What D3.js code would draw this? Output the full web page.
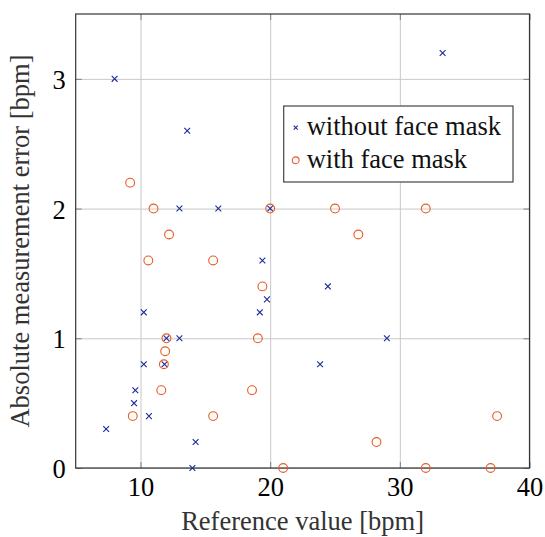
<!DOCTYPE html>
<html>
<head>
<meta charset="utf-8">
<script src="https://cdn.jsdelivr.net/npm/d3@7"></script>
<style>
    body { margin: 0; background: #fff; }
</style>
</head>
<body>
<div id="chart"></div>
<script>
// reference value [bpm] and absolute error [bpm]
var noMaskX = [8, 13.6, 13, 16, 20, 33.3, 19.4, 19.75, 10.25, 19.2, 12, 13, 10.25, 11.85, 9.6, 9.5, 10.65, 7.35, 14.25, 14, 24.45, 29, 23.85];
var noMaskY = [3, 2.6, 2, 2, 2, 3.2, 1.6, 1.3, 1.2, 1.2, 1, 1, 0.8, 0.8, 0.6, 0.5, 0.4, 0.3, 0.2, 0, 1.4, 1, 0.8];
var maskX = [9.2, 11, 12.2, 20, 25, 32, 26.8, 10.6, 15.6, 19.4, 12, 19.05, 11.9, 11.8, 11.6, 18.6, 9.4, 15.6, 21, 37.5, 28.2, 32, 37];
var maskY = [2.2, 2, 1.8, 2, 2, 2, 1.8, 1.6, 1.6, 1.4, 1, 1, 0.9, 0.8, 0.6, 0.6, 0.4, 0.4, 0, 0.4, 0.2, 0, 0];
var xTicks = [10, 20, 30, 40];
var yTicks = [0, 1, 2, 3];
var seriesNames = ["without face mask", "with face mask"];

var width = 545, height = 537;
var margin = { top: 14, right: 15.5, bottom: 69, left: 75.7 };
var w = width - margin.left - margin.right;
var h = height - margin.top - margin.bottom;

var blue = "#1a2b9c", orange = "#e85a25";
var font = "Liberation Serif";
var fontSize = 26.5;

// touch the font once so it is loaded before the svg text is laid out
var ctx = document.createElement("canvas").getContext("2d");
ctx.font = fontSize + "px '" + font + "', serif";
ctx.measureText("Absolute measurement error 0123");

var svg = d3.select("#chart").append("svg")
    .attr("width", width)
    .attr("height", height);

var g = svg.append("g")
    .attr("transform", "translate(" + margin.left + "," + margin.top + ")");

var x = d3.scaleLinear().domain([5, 40]).range([0, w]);
var y = d3.scaleLinear().domain([0, 3.5]).range([h, 0]);

// grid
g.append("g")
    .attr("transform", "translate(0," + h + ")")
    .call(d3.axisBottom(x).tickValues(xTicks).tickSize(-h).tickFormat(""))
    .call(function (s) {
        s.select(".domain").remove();
        s.selectAll("line").attr("stroke", "#c8c8c8").attr("stroke-width", 1);
    });
g.append("g")
    .call(d3.axisLeft(y).tickValues(yTicks).tickSize(-w).tickFormat(""))
    .call(function (s) {
        s.select(".domain").remove();
        s.selectAll("line").attr("stroke", "#c8c8c8").attr("stroke-width", 1);
    });

// inner tick marks on all four sides
function tickMarks(axis, tr) {
    g.append("g").attr("transform", tr)
        .call(axis.tickSizeInner(-6).tickSizeOuter(0).tickFormat(""))
        .call(function (s) {
            s.select(".domain").remove();
            s.selectAll("line").attr("stroke", "#808080").attr("stroke-width", 1);
        });
}
tickMarks(d3.axisBottom(x).tickValues(xTicks), "translate(0," + h + ")");
tickMarks(d3.axisTop(x).tickValues(xTicks), "translate(0,0)");
tickMarks(d3.axisLeft(y).tickValues(yTicks), "translate(0,0)");
tickMarks(d3.axisRight(y).tickValues(yTicks), "translate(" + w + ",0)");

// tick labels
var xAxis = g.append("g")
    .attr("transform", "translate(0," + h + ")")
    .call(d3.axisBottom(x).tickValues(xTicks).tickSize(0).tickPadding(9).tickFormat(d3.format("d")));
xAxis.select(".domain").remove();
xAxis.attr("font-family", font).attr("font-size", fontSize);
xAxis.selectAll("text").attr("fill", "#000");

var yAxis = g.append("g")
    .call(d3.axisLeft(y).tickValues(yTicks).tickSize(0).tickPadding(10).tickFormat(d3.format("d")));
yAxis.select(".domain").remove();
yAxis.attr("font-family", font).attr("font-size", fontSize);
yAxis.selectAll("text").attr("fill", "#000").attr("dy", "0.36em");

// frame
g.append("rect")
    .attr("width", w).attr("height", h)
    .attr("fill", "none").attr("stroke", "#333").attr("stroke-width", 1.2);

// axis titles
svg.append("text")
    .attr("x", margin.left + w / 2).attr("y", 530)
    .attr("text-anchor", "middle").attr("font-family", font).attr("font-size", fontSize).attr("fill", "#333")
    .text("Reference value [bpm]");
svg.append("text")
    .attr("transform", "translate(28.5," + (margin.top + h / 2) + ") rotate(-90)")
    .attr("text-anchor", "middle").attr("font-family", font).attr("font-size", fontSize).attr("fill", "#333")
    .text("Absolute measurement error [bpm]");

// markers
function cross(sel, r) {
    sel.append("path")
        .attr("d", "M" + (-r) + "," + (-r) + "L" + r + "," + r + "M" + (-r) + "," + r + "L" + r + "," + (-r))
        .attr("stroke", blue).attr("stroke-width", 1.1).attr("fill", "none");
}

var noMask = noMaskX.map(function (d, i) { return { x: d, y: noMaskY[i] }; });
var mask = maskX.map(function (d, i) { return { x: d, y: maskY[i] }; });

g.selectAll(".nomask")
    .data(noMask)
    .enter().append("g")
    .attr("class", "nomask")
    .attr("transform", function (d) { return "translate(" + x(d.x) + "," + y(d.y) + ")"; })
    .call(cross, 2.9);

g.selectAll(".mask")
    .data(mask)
    .enter().append("circle")
    .attr("class", "mask")
    .attr("cx", function (d) { return x(d.x); })
    .attr("cy", function (d) { return y(d.y); })
    .attr("r", 4.4)
    .attr("fill", "none").attr("stroke", orange).attr("stroke-width", 1.1);

// legend
var legend = svg.append("g").attr("transform", "translate(283.7,106)");
legend.append("rect")
    .attr("width", 229.3).attr("height", 76)
    .attr("fill", "#fff").attr("stroke", "#444").attr("stroke-width", 1.2);
var rows = legend.selectAll(".row")
    .data(seriesNames)
    .enter().append("g")
    .attr("class", "row")
    .attr("transform", function (d, i) { return "translate(0," + (21.7 + i * 32.6) + ")"; });
rows.filter(function (d, i) { return i === 0; })
    .append("g").attr("transform", "translate(12,0)").call(cross, 2);
rows.filter(function (d, i) { return i === 1; })
    .append("circle").attr("cx", 12).attr("r", 3.4)
    .attr("fill", "none").attr("stroke", orange).attr("stroke-width", 1.1);
rows.append("text")
    .attr("x", 23).attr("y", 7.5)
    .attr("font-family", font).attr("font-size", fontSize).attr("fill", "#111")
    .text(function (d) { return d; });
</script>
</body>
</html>
